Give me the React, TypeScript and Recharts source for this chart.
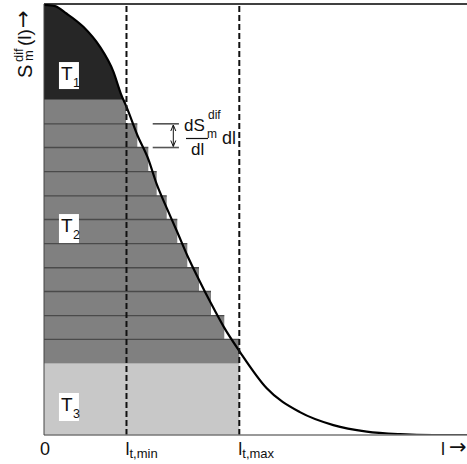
import React from 'react';
import { ComposedChart, Area, Line, XAxis, YAxis, ReferenceLine, ReferenceDot, Customized } from 'recharts';

// Curve S_m^dif(l) (x domain 0..100, y domain 0..100)
const curveL = [0, 2.6, 5.3, 9.3, 13.2, 16.4, 18.2, 19.6, 22.1, 24.7, 26.6, 29.0, 31.5, 33.9, 36.6, 39.5, 42.6, 46.3, 52.6, 60.5, 68.4, 76.3, 84.2, 92.0, 100];
const curveS = [99.8, 99.5, 97.8, 94.7, 90.1, 84.3, 79.1, 75.9, 69.5, 63.9, 58.3, 52.7, 47.1, 41.6, 36.1, 30.5, 24.9, 19.3, 10.9, 5.3, 2.3, 0.8, 0.2, 0, 0];

// T1 region (curve part above the first band)
const t1L = [0, 2.6, 5.3, 9.3, 13.2, 16.4, 18.2, 18.8];
const t1S = [99.8, 99.5, 97.8, 94.7, 90.1, 84.3, 79.1, 77.8];

// T2 bands (midpoint staircase)
const bandEdgeL = [19.4, 22.06, 24.66, 26.64, 29.01, 31.51, 33.88, 36.64, 39.48, 42.62, 46.17];
const bandTopS = [77.8, 72.2, 66.7, 61.1, 55.5, 50.0, 44.4, 38.8, 33.3, 27.7, 22.2];
const bandBottomS = 16.6;

// markers
const lMin = 19.5;
const lMax = 46.17;
const xTicks = [0, lMin, lMax, 94.1];
const xTickMain = ['0', 'l', 'l', 'l'];
const xTickSub = ['', 't,min', 't,max', ''];

// region labels T1, T2, T3 (centre positions)
const regionNames = ['1', '2', '3'];
const regionL = [5.9, 5.9, 5.9];
const regionS = [83.4, 47.9, 6.5];

// dS annotation bracket
const bracketL = [25.7, 31.9];

const curveData = curveL.map((l, i) => ({ l, S: curveS[i] }));
const t1Data = t1L.map((l, i) => ({ l, S: t1S[i] }));
const stepData = [0, ...bandEdgeL].map((l, i) => ({ l, S: i < bandTopS.length ? bandTopS[i] : bandBottomS }));
const t3Data = [{ l: 0, S: bandBottomS }, { l: lMax, S: bandBottomS }];

const FONT = '"Liberation Sans", Arial, sans-serif';
const ARROW_FONT = '"DejaVu Sans", sans-serif';

const XTick = (props: any) => {
  const { x, payload, index } = props;
  const i = xTicks.indexOf(payload.value);
  const k = i >= 0 ? i : index;
  if (k === 0) {
    return (
      <text x={x + 1} y={455} textAnchor="middle" fontFamily={FONT} fontSize={18} fill="#111">0</text>
    );
  }
  if (k === 3) {
    return (
      <g>
        <text x={x - 1} y={455} fontFamily={FONT} fontSize={18} fill="#111">l</text>
        <text x={x + 7} y={454} fontFamily={ARROW_FONT} fontSize={21} fill="#111">{'\u2192'}</text>
      </g>
    );
  }
  return (
    <text x={x - 1} y={455} textAnchor="start" fontFamily={FONT} fontSize={18} fill="#111">
      {xTickMain[k]}
      {xTickSub[k] ? <tspan fontSize={13} dy={3}>{xTickSub[k]}</tspan> : null}
    </text>
  );
};

const makeTBox = (sub: string, h: number) => (props: any) => {
  const { cx, cy } = props;
  const top = cy - h / 2;
  return (
    <g>
      <rect x={cx - 10} y={top} width={20} height={h} fill="#fff" />
      <text x={cx - 8} y={top + 18} fontFamily={FONT} fontSize={19} fill="#111">T</text>
      <text x={cx + 4} y={top + 25} fontFamily={FONT} fontSize={12.5} fill="#111">{sub}</text>
    </g>
  );
};
const boxHeights = [27, 29, 28];

const Annotations = () => (
  <g>
    {/* y axis label */}
    <g transform="translate(32,78) rotate(-90)" fontFamily={FONT} fill="#111">
      <text x={0} y={0} fontSize={20}>S</text>
      <text x={16} y={-9} fontSize={13}>dif</text>
      <text x={17} y={1} fontSize={13}>m</text>
      <text x={32} y={-1} fontSize={19}>(l)</text>
      <text x={50} y={-2} fontSize={21} fontFamily={ARROW_FONT}>{'\u2192'}</text>
    </g>
    {/* double arrow */}
    <g stroke="#111" strokeWidth={1} fill="none">
      <line x1={173.3} y1={125} x2={173.3} y2={146.5} />
      <polyline points="170.8,131 173.3,125 175.8,131" />
      <polyline points="170.8,140.5 173.3,146.5 175.8,140.5" />
    </g>
    {/* formula */}
    <g fontFamily={FONT} fill="#111">
      <text x={184} y={131} fontSize={17}>dS</text>
      <text x={208} y={119} fontSize={12}>dif</text>
      <text x={207} y={138} fontSize={12}>m</text>
      <line x1={186} y1={138.5} x2={208} y2={138.5} stroke="#111" strokeWidth={1.2} />
      <text x={191} y={155} fontSize={17}>dl</text>
      <text x={222} y={144} fontSize={18}>dl</text>
    </g>
  </g>
);

export default function App() {
  return (
    <div style={{ position: 'absolute', left: 0, top: 0, width: 467, height: 464, background: '#fff' }}>
      <ComposedChart width={467} height={464} margin={{ top: 4, right: 0, bottom: 0, left: 0 }}>
        <XAxis
          type="number"
          dataKey="l"
          domain={[0, 100]}
          ticks={xTicks}
          interval={0}
          tick={<XTick />}
          tickLine={false}
          axisLine={{ stroke: '#777', strokeWidth: 1.5 }}
          height={29}
          allowDataOverflow
        />
        <YAxis
          type="number"
          domain={[0, 100]}
          width={44}
          tick={false}
          tickLine={false}
          axisLine={{ stroke: '#444', strokeWidth: 1 }}
          allowDataOverflow
        />
        <Area data={t3Data} dataKey="S" type="linear" baseValue={0} fill="#c8c8c8" fillOpacity={1} stroke="none" isAnimationActive={false} />
        <Area data={stepData} dataKey="S" type="stepAfter" baseValue={bandBottomS} fill="#808080" fillOpacity={1} stroke="none" isAnimationActive={false} />
        <Area data={t1Data} dataKey="S" type="monotone" baseValue={bandTopS[0]} fill="#262626" fillOpacity={1} stroke="none" isAnimationActive={false} />
        {bandTopS.slice(1).map((s, i) => (
          <ReferenceLine
            key={'sep' + i}
            segment={[{ x: 0, y: s }, { x: bandEdgeL[i + 1], y: s }]}
            stroke="#4a4a4a"
            strokeWidth={1.3}
          />
        ))}
        {[bandTopS[1], bandTopS[2]].map((s, i) => (
          <ReferenceLine
            key={'br' + i}
            segment={[{ x: bracketL[0], y: s }, { x: bracketL[1], y: s }]}
            stroke="#555"
            strokeWidth={1.6}
          />
        ))}
        <Line data={curveData} dataKey="S" type="monotone" stroke="#000" strokeWidth={2.2} dot={false} isAnimationActive={false} />
        <ReferenceLine x={lMin} stroke="#111" strokeWidth={2} strokeDasharray="6 3" />
        <ReferenceLine x={lMax} stroke="#111" strokeWidth={2} strokeDasharray="6 3" />
        <ReferenceLine y={100} stroke="#000" strokeWidth={1.5} />
        {regionNames.map((n, i) => (
          <ReferenceDot
            key={'T' + n}
            x={regionL[i]}
            y={regionS[i]}
            r={10}
            shape={makeTBox(n, boxHeights[i])}
          />
        ))}
        <Customized component={Annotations} />
      </ComposedChart>
    </div>
  );
}
